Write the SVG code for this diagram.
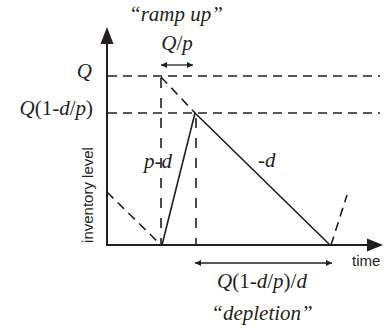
<svg xmlns="http://www.w3.org/2000/svg" width="389" height="329" viewBox="0 0 389 329">
<style>
.axis{stroke:#231f20;stroke-width:2;fill:none}
.solid{stroke:#231f20;stroke-width:1.6;fill:none}
.dash{stroke:#231f20;stroke-width:1.6;fill:none;stroke-dasharray:9 6}
.vdash{stroke:#231f20;stroke-width:1.6;fill:none;stroke-dasharray:10 10}
.thin{stroke:#231f20;stroke-width:1.3;fill:none}
.m{font-family:'Liberation Serif',serif;font-size:21px;fill:#231f20}
.i{font-style:italic}
.s{font-family:'Liberation Sans',sans-serif;font-size:15px;fill:#231f20}
</style>
<defs>
<marker id="sm" viewBox="0 0 10 10" refX="10" refY="5" markerWidth="6" markerHeight="6" markerUnits="userSpaceOnUse" orient="auto-start-reverse">
<path d="M0,0 L10,5 L0,10 Z" fill="#231f20"/>
</marker>
</defs>
<g id="axes">
<line class="axis" x1="107" y1="245" x2="107" y2="40"/>
<path d="M107,27 L100.5,44 L113.5,44 Z" fill="#231f20"/>
<line class="axis" x1="106" y1="245" x2="370" y2="245"/>
<path d="M383,245 L367,238.5 L367,251.5 Z" fill="#231f20"/>
</g>
<g id="connectors">
<line class="dash" x1="108" y1="76" x2="380" y2="76"/>
<line class="dash" x1="108" y1="113" x2="380" y2="113"/>
<line class="vdash" x1="161" y1="78" x2="161" y2="244"/>
<line class="vdash" x1="196" y1="118" x2="196" y2="244"/>
<line class="dash" x1="161" y1="77" x2="195" y2="113"/>
<line class="dash" x1="107" y1="192" x2="161" y2="245"/>
<line class="dash" x1="331" y1="245" x2="347" y2="195"/>
<polyline class="solid" points="162,245 195,113 330,245"/>
<line class="thin" x1="161" y1="65" x2="193" y2="65" marker-start="url(#sm)" marker-end="url(#sm)"/>
<line class="thin" x1="195" y1="263" x2="332" y2="263" marker-start="url(#sm)" marker-end="url(#sm)"/>
</g>
<g id="labels">
<text class="m i" x="176" y="21" text-anchor="middle">“ramp up”</text>
<text class="m" x="177" y="50" text-anchor="middle"><tspan class="i">Q</tspan>/<tspan class="i">p</tspan></text>
<text class="m i" x="92" y="78" text-anchor="end">Q</text>
<text class="m" x="93" y="115" text-anchor="end"><tspan class="i">Q</tspan>(1-<tspan class="i">d</tspan>/<tspan class="i">p</tspan>)</text>
<text class="m" x="144" y="168"><tspan class="i">p</tspan>-<tspan class="i">d</tspan></text>
<text class="m" x="258" y="167">-<tspan class="i">d</tspan></text>
<text class="s" transform="translate(93,195) rotate(-90)" text-anchor="middle">inventory level</text>
<text class="s" x="352" y="266">time</text>
<text class="m" x="262" y="288" text-anchor="middle"><tspan class="i">Q</tspan>(1-<tspan class="i">d</tspan>/<tspan class="i">p</tspan>)/<tspan class="i">d</tspan></text>
<text class="m i" x="262" y="320" text-anchor="middle">“depletion”</text>
</g>
</svg>
